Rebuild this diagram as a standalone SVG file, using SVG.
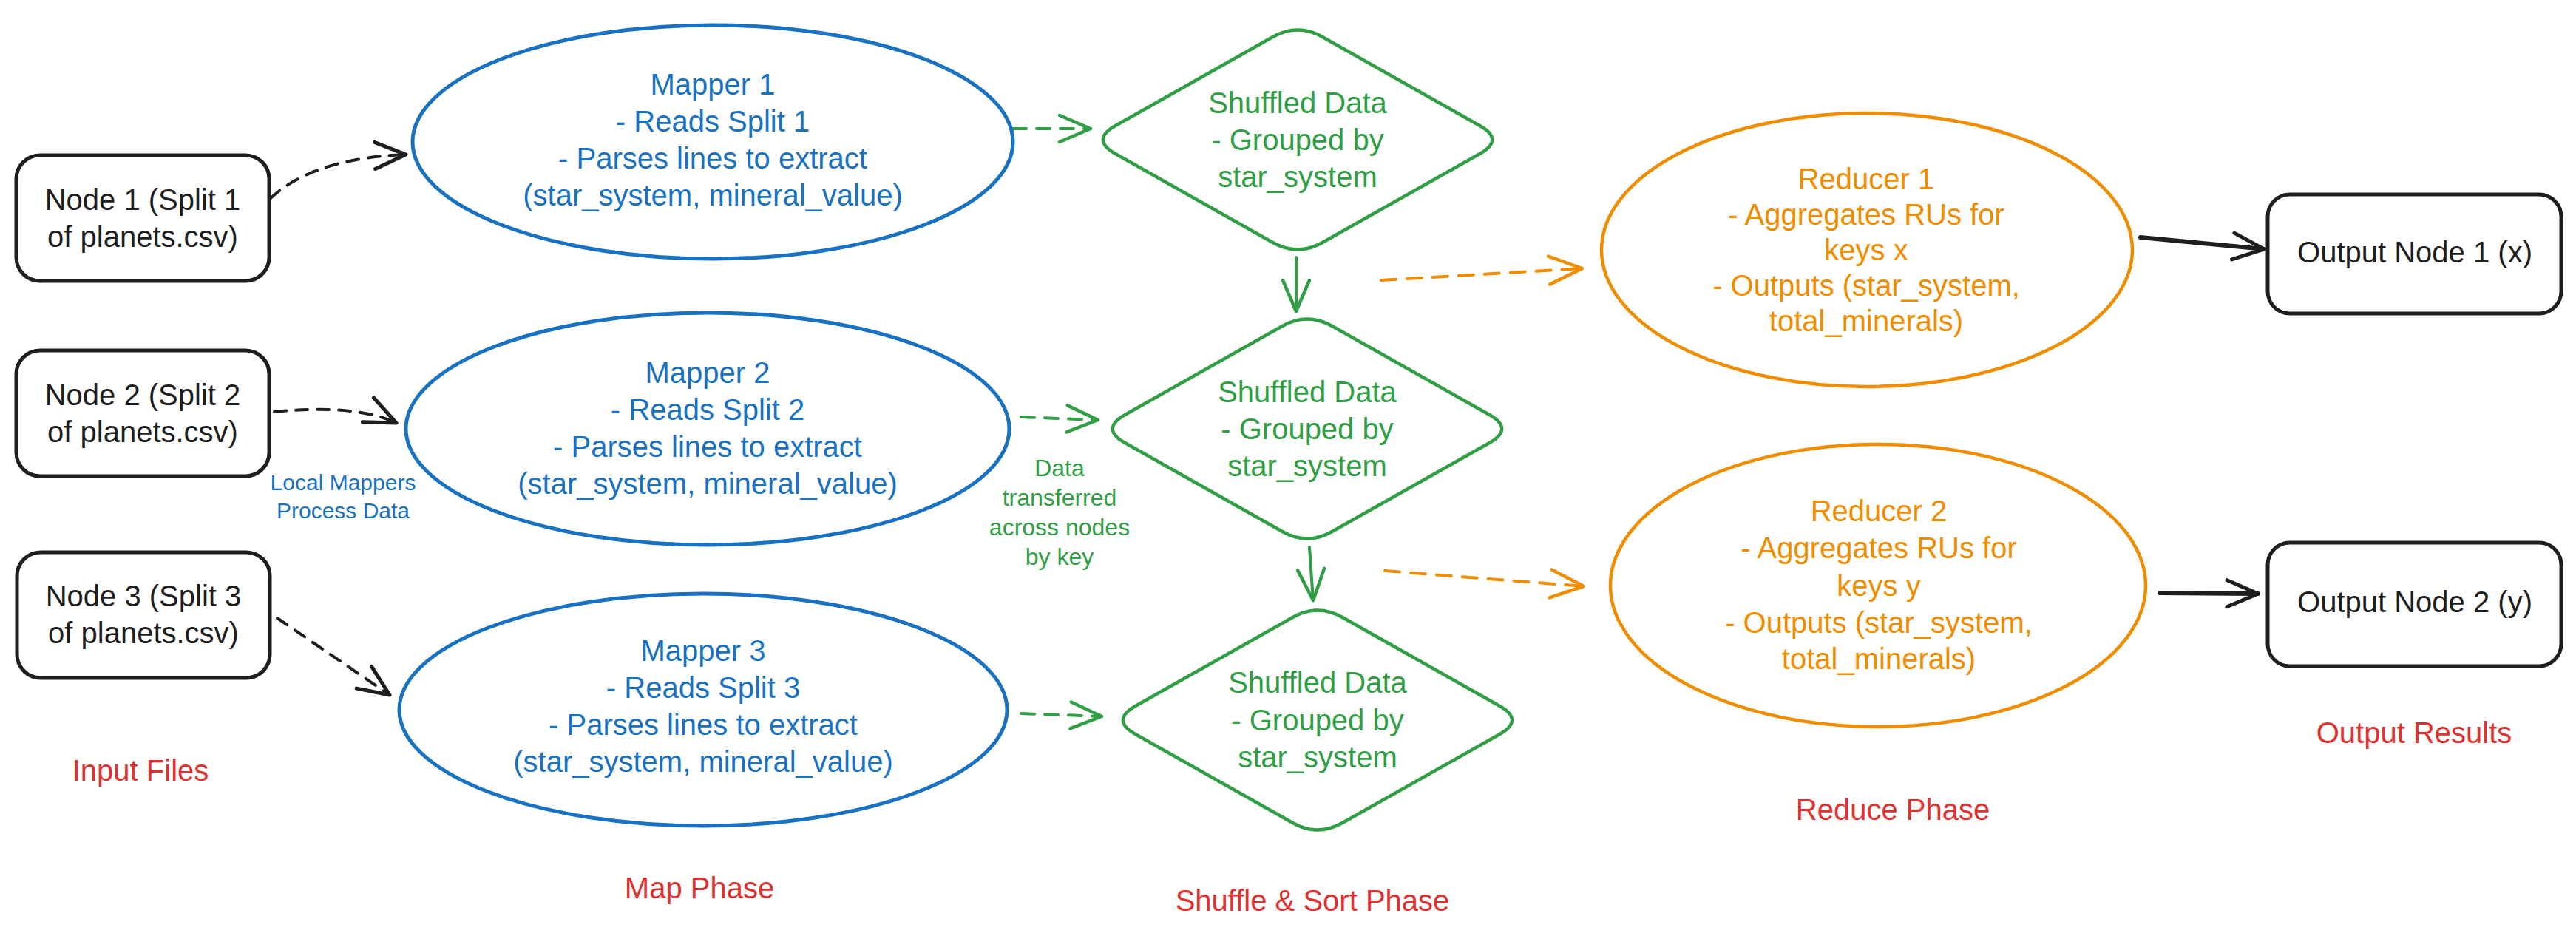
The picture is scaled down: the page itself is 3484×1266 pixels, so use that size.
<svg xmlns="http://www.w3.org/2000/svg" width="3484" height="1266" viewBox="0 0 3484 1266">
<style>
  text { font-family: "Liberation Sans", "DejaVu Sans", sans-serif; text-anchor: middle; }
  .t40 { font-size: 40px; }
  .t32 { font-size: 32px; }
  .t30 { font-size: 30px; }
  .blk { fill: #1e1e1e; }
  .blu { fill: #1971c2; }
  .grn { fill: #2f9e44; }
  .org { fill: #f08c00; }
  .red { fill: #e03131; }
  .box { fill: #ffffff; stroke: #1e1e1e; stroke-width: 5; }
  .map { fill: #ffffff; stroke: #1971c2; stroke-width: 5; }
  .dia { fill: #ffffff; stroke: #2f9e44; stroke-width: 4.5; stroke-linejoin: round; }
  .red-e { fill: #ffffff; stroke: #f08c00; stroke-width: 4.5; }
  .c { fill: none; stroke-linecap: round; }
  .cb { stroke: #1e1e1e; stroke-width: 4; stroke-dasharray: 16 13; marker-end: url(#ahB); }
  .cg { stroke: #2f9e44; stroke-width: 4; stroke-dasharray: 18 14; marker-end: url(#ahG); }
  .cgs { stroke: #2f9e44; stroke-width: 4; marker-end: url(#ahG); }
  .co { stroke: #f08c00; stroke-width: 4; stroke-dasharray: 20 15; marker-end: url(#ahO); }
  .cbs { stroke: #1e1e1e; stroke-width: 6; marker-end: url(#ahB); }
</style>
<defs>
  <marker id="ahB" markerUnits="userSpaceOnUse" markerWidth="60" markerHeight="60" viewBox="-50 -25 60 50" refX="0" refY="0" orient="auto">
    <path d="M -42 -18 L 0 0 L -42 18" fill="none" stroke="#1e1e1e" stroke-width="5" stroke-linecap="round" stroke-linejoin="round"/>
  </marker>
  <marker id="ahG" markerUnits="userSpaceOnUse" markerWidth="60" markerHeight="60" viewBox="-50 -25 60 50" refX="0" refY="0" orient="auto">
    <path d="M -42 -18 L 0 0 L -42 18" fill="none" stroke="#2f9e44" stroke-width="4.5" stroke-linecap="round" stroke-linejoin="round"/>
  </marker>
  <marker id="ahO" markerUnits="userSpaceOnUse" markerWidth="60" markerHeight="60" viewBox="-50 -25 60 50" refX="0" refY="0" orient="auto">
    <path d="M -45 -19 L 0 0 L -45 19" fill="none" stroke="#f08c00" stroke-width="4.5" stroke-linecap="round" stroke-linejoin="round"/>
  </marker>
  <path id="diamond" d="M 33.6 -139 L 246.4 -19 Q 280 0 246.4 19 L 33.6 139 Q 0 158 -33.6 139 L -246.4 19 Q -280 0 -246.4 -19 L -33.6 -139 Q 0 -158 33.6 -139 Z"/>
</defs>
<rect width="3484" height="1266" fill="#ffffff"/>

<g id="connectors">
  <path class="c cb" d="M 366 268 C 400 236 460 212 549 209"/>
  <path class="c cb" d="M 371 557 Q 480 546 536 572"/>
  <path class="c cb" d="M 375 836 L 527 940"/>
  <path class="c cg" d="M 1370 174 L 1475 174"/>
  <path class="c cg" d="M 1381 564 L 1485 568"/>
  <path class="c cg" d="M 1381 965 L 1490 969"/>
  <path class="c cgs" d="M 1753 348 L 1753 421"/>
  <path class="c cgs" d="M 1771 740 L 1776 812"/>
  <path class="c co" d="M 1868 379 L 2140 363"/>
  <path class="c co" d="M 1873 772 L 2142 793"/>
  <path class="c cbs" d="M 2895 321 L 3062 337"/>
  <path class="c cbs" d="M 2921 802 L 3054 803"/>
</g>

<g id="node1">
  <rect class="box" x="22" y="210" width="342" height="170" rx="32"/>
  <text class="t40 blk" x="193" y="284">Node 1 (Split 1</text>
  <text class="t40 blk" x="193" y="334">of planets.csv)</text>
</g>
<g id="node2">
  <rect class="box" x="22" y="474" width="342" height="170" rx="32"/>
  <text class="t40 blk" x="193" y="548">Node 2 (Split 2</text>
  <text class="t40 blk" x="193" y="598">of planets.csv)</text>
</g>
<g id="node3">
  <rect class="box" x="23" y="747" width="342" height="170" rx="32"/>
  <text class="t40 blk" x="194" y="820">Node 3 (Split 3</text>
  <text class="t40 blk" x="194" y="870">of planets.csv)</text>
</g>

<g id="mapper1">
  <ellipse class="map" cx="964" cy="192" rx="406" ry="158"/>
  <text class="t40 blu" x="964" y="128">Mapper 1</text>
  <text class="t40 blu" x="964" y="178">- Reads Split 1</text>
  <text class="t40 blu" x="964" y="228">- Parses lines to extract</text>
  <text class="t40 blu" x="964" y="278">(star_system, mineral_value)</text>
</g>
<g id="mapper2">
  <ellipse class="map" cx="957" cy="580" rx="408" ry="157"/>
  <text class="t40 blu" x="957" y="518">Mapper 2</text>
  <text class="t40 blu" x="957" y="568">- Reads Split 2</text>
  <text class="t40 blu" x="957" y="618">- Parses lines to extract</text>
  <text class="t40 blu" x="957" y="668">(star_system, mineral_value)</text>
</g>
<g id="mapper3">
  <ellipse class="map" cx="951" cy="960" rx="411" ry="157"/>
  <text class="t40 blu" x="951" y="894">Mapper 3</text>
  <text class="t40 blu" x="951" y="944">- Reads Split 3</text>
  <text class="t40 blu" x="951" y="994">- Parses lines to extract</text>
  <text class="t40 blu" x="951" y="1044">(star_system, mineral_value)</text>
</g>

<g id="shuffle1">
  <use href="#diamond" class="dia" transform="translate(1755 189)"/>
  <text class="t40 grn" x="1755" y="153">Shuffled Data</text>
  <text class="t40 grn" x="1755" y="203">- Grouped by</text>
  <text class="t40 grn" x="1755" y="253">star_system</text>
</g>
<g id="shuffle2">
  <use href="#diamond" class="dia" transform="translate(1768 580)"/>
  <text class="t40 grn" x="1768" y="544">Shuffled Data</text>
  <text class="t40 grn" x="1768" y="594">- Grouped by</text>
  <text class="t40 grn" x="1768" y="644">star_system</text>
</g>
<g id="shuffle3">
  <use href="#diamond" class="dia" transform="translate(1782 974)"/>
  <text class="t40 grn" x="1782" y="937">Shuffled Data</text>
  <text class="t40 grn" x="1782" y="988">- Grouped by</text>
  <text class="t40 grn" x="1782" y="1038">star_system</text>
</g>

<g id="reducer1">
  <ellipse class="red-e" cx="2525" cy="338" rx="359" ry="185"/>
  <text class="t40 org" x="2524" y="256">Reducer 1</text>
  <text class="t40 org" x="2524" y="304">- Aggregates RUs for</text>
  <text class="t40 org" x="2524" y="352">keys x</text>
  <text class="t40 org" x="2524" y="400">- Outputs (star_system,</text>
  <text class="t40 org" x="2524" y="448">total_minerals)</text>
</g>
<g id="reducer2">
  <ellipse class="red-e" cx="2540" cy="792" rx="362" ry="191"/>
  <text class="t40 org" x="2541" y="705">Reducer 2</text>
  <text class="t40 org" x="2541" y="755">- Aggregates RUs for</text>
  <text class="t40 org" x="2541" y="806">keys y</text>
  <text class="t40 org" x="2541" y="856">- Outputs (star_system,</text>
  <text class="t40 org" x="2541" y="905">total_minerals)</text>
</g>

<g id="output1">
  <rect class="box" x="3067" y="263" width="397" height="161" rx="30"/>
  <text class="t40 blk" x="3266" y="355">Output Node 1 (x)</text>
</g>
<g id="output2">
  <rect class="box" x="3067" y="734" width="397" height="167" rx="30"/>
  <text class="t40 blk" x="3266" y="828">Output Node 2 (y)</text>
</g>

<g id="labels">
  <text class="t30 blu" x="464" y="663">Local Mappers</text>
  <text class="t30 blu" x="464" y="701">Process Data</text>
  <text class="t32 grn" x="1433" y="644">Data</text>
  <text class="t32 grn" x="1433" y="684">transferred</text>
  <text class="t32 grn" x="1433" y="724">across nodes</text>
  <text class="t32 grn" x="1433" y="764">by key</text>
  <text class="t40 red" x="190" y="1056">Input Files</text>
  <text class="t40 red" x="946" y="1215">Map Phase</text>
  <text class="t40 red" x="1775" y="1232">Shuffle &amp; Sort Phase</text>
  <text class="t40 red" x="2560" y="1109">Reduce Phase</text>
  <text class="t40 red" x="3265" y="1005">Output Results</text>
</g>
</svg>
